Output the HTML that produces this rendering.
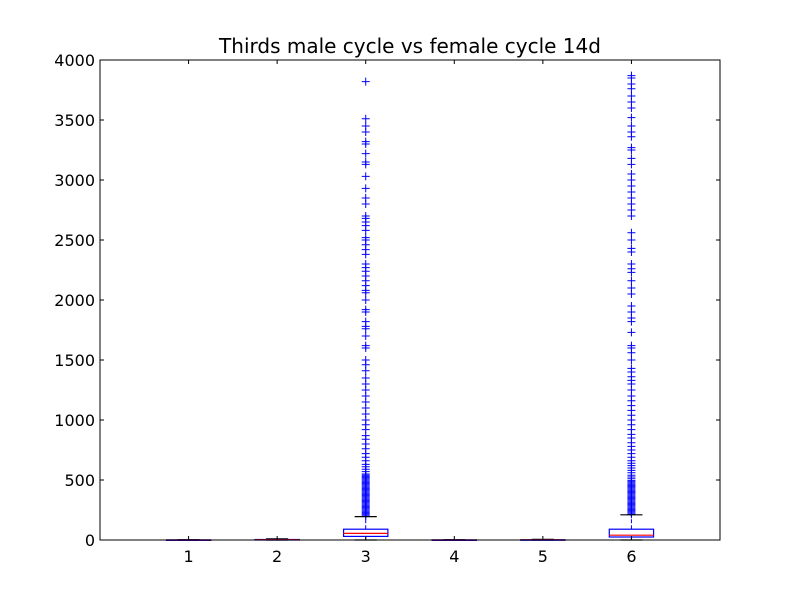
<!DOCTYPE html>
<html><head><meta charset="utf-8"><style>
body{margin:0;background:#fff;}
svg text{font-family:"DejaVu Sans","Liberation Sans",sans-serif;}
</style></head><body>
<svg id="chart" width="800" height="600">
<rect width="800" height="600" fill="#fff"/>
<text x="410" y="53" font-size="20" text-anchor="middle">Thirds male cycle vs female cycle 14d</text>
<g id="marks"></g>
<g id="axes"></g>
</svg>
<script>
const categories=["1","2","3","4","5","6"];
const q1=[0,0,30,0,0,25];
const med=[0,2,55,0,1,40];
const q3=[1,4,90,1,2,90];
const whiskLo=[0,0,0,0,0,0];
const whiskHi=[2,10,195,2,5,210];
const yTicks=[0,500,1000,1500,2000,2500,3000,3500,4000];
const outliers3=[200,210,220,230,240,250,260,270,280,290,300,310,320,330,340,350,360,370,380,390,400,410,420,430,440,450,460,470,480,490,500,510,520,530,540,550,570,590,610,630,660,690,720,760,800,840,870,920,960,1000,1050,1100,1150,1200,1250,1300,1350,1410,1460,1500,1600,1620,1700,1760,1780,1820,1900,1920,2000,2060,2080,2120,2160,2200,2240,2270,2300,2380,2420,2460,2500,2520,2580,2620,2650,2680,2700,2800,2850,2930,3030,3130,3150,3220,3300,3320,3400,3450,3510,3820];
const outliers6=[215,225,235,245,255,265,275,285,295,305,315,325,335,345,355,365,375,385,395,405,415,425,435,445,455,465,475,485,495,510,525,540,560,580,600,620,640,660,690,720,750,780,810,850,880,920,960,1000,1040,1080,1120,1160,1200,1250,1300,1330,1360,1400,1430,1500,1560,1600,1620,1730,1820,1850,1900,1950,2050,2100,2160,2230,2260,2300,2400,2430,2500,2560,2700,2750,2800,2850,2900,2950,3000,3050,3130,3180,3250,3270,3360,3400,3450,3520,3600,3650,3700,3760,3800,3850,3870];
const X0=100,X1=720,Y0=540,Y1=60;
const xs=v=>X0+(v)*(X1-X0)/7;
const ys=v=>Y0-(v)*(Y0-Y1)/4000;
const NS="http://www.w3.org/2000/svg";
const marks=document.getElementById('marks'),axes=document.getElementById('axes');
function mk(tag,attrs,parent){const e=document.createElementNS(NS,tag);for(const k in attrs)e.setAttribute(k,attrs[k]);parent.appendChild(e);return e;}
const outs=[[],[],outliers3,[],[],outliers6];
categories.forEach((c,i)=>{
  const cx=xs(i+1),hw=(X1-X0)/7*0.25,cw=hw/2;
  const g=mk('g',{},marks);
  
  
  outs[i].forEach(v=>{
    const p=mk('path',{d:`M${cx-4},${ys(v)}h8M${cx},${ys(v)-4}v8`,stroke:'#0000ff','stroke-width':1,fill:'none'},g);
    
    
  });
  mk('path',{d:`M${cx},${ys(q3[i])}V${ys(whiskHi[i])}M${cx},${ys(q1[i])}V${ys(whiskLo[i])}`,stroke:'#0000ff','stroke-width':1,'stroke-dasharray':'4,2'},g);
  mk('path',{d:`M${cx-cw},${ys(whiskHi[i])}h${2*cw}M${cx-cw},${ys(whiskLo[i])}h${2*cw}`,stroke:'#000','stroke-width':1.2},g);
  mk('rect',{x:cx-hw,y:ys(q3[i]),width:2*hw,height:Math.max(0.5,ys(q1[i])-ys(q3[i])),fill:'none',stroke:'#0000ff','stroke-width':1.2},g);
  mk('path',{d:`M${cx-hw},${ys(med[i])}h${2*hw}`,stroke:'#ff0000','stroke-width':1.2},g);
});
mk('rect',{x:X0,y:Y1,width:X1-X0,height:Y0-Y1,fill:'none',stroke:'#000','stroke-width':1},axes);
yTicks.forEach(t=>{
  const y=ys(t);
  mk('path',{d:`M${X0},${y}h4M${X1},${y}h-4`,stroke:'#000'},axes);
  const tx=mk('text',{x:X0-5,y:y+6,'font-size':16,'text-anchor':'end'},axes);tx.textContent=t;
  
  
});
categories.forEach((c,i)=>{
  const x=xs(i+1);
  mk('path',{d:`M${x},${Y0}v-4M${x},${Y1}v4`,stroke:'#000'},axes);
  const tx=mk('text',{x:x,y:Y0+22,'font-size':16,'text-anchor':'middle'},axes);tx.textContent=c;
  
  
});
</script>
</body></html>
